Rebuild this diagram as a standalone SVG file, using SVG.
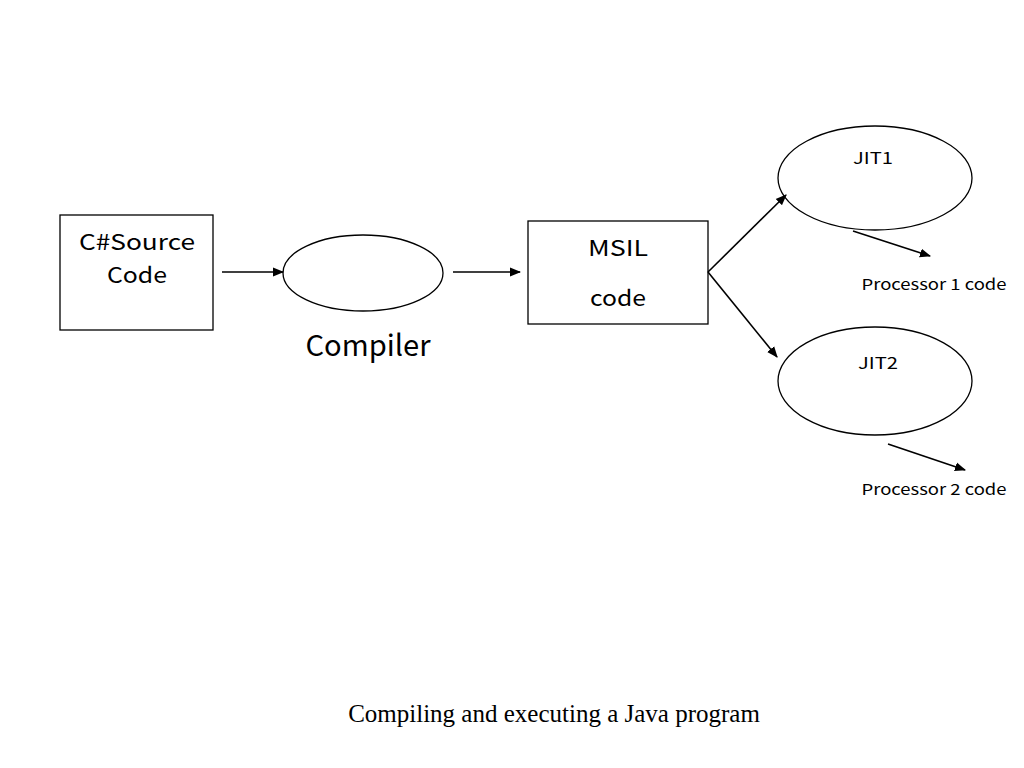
<svg xmlns="http://www.w3.org/2000/svg" width="1024" height="768" viewBox="0 0 1024 768">
<style>
.s{fill:#fff;stroke:#000;stroke-width:1.3}
.t{font-family:"Noto Sans CJK JP","Noto Sans",sans-serif;fill:#000;text-anchor:middle}
.c{stroke:#000;stroke-width:1.6;fill:none;marker-end:url(#a)}
</style>
<defs><marker id="a" viewBox="0 0 10 10" refX="9" refY="5" markerWidth="7" markerHeight="7" orient="auto"><path d="M0,1 L10,5 L0,9 z" fill="#000"/></marker></defs>
<rect width="1024" height="768" fill="#fff"/>
<g id="source"><rect class="s" x="60" y="215" width="153" height="115"/><text class="t" x="137" y="250" font-size="22" textLength="116" lengthAdjust="spacingAndGlyphs">C#Source</text><text class="t" x="137" y="283" font-size="22" textLength="60" lengthAdjust="spacingAndGlyphs">Code</text></g>
<g id="compiler"><ellipse class="s" cx="363" cy="273" rx="80" ry="38"/><text class="t" x="368" y="356" font-size="29" textLength="125" lengthAdjust="spacingAndGlyphs">Compiler</text></g>
<g id="msil"><rect class="s" x="528" y="221" width="180" height="103"/><text class="t" x="618" y="256" font-size="22" textLength="60" lengthAdjust="spacingAndGlyphs">MSIL</text><text class="t" x="618" y="306" font-size="22" textLength="56" lengthAdjust="spacingAndGlyphs">code</text></g>
<g id="jit1"><ellipse class="s" cx="875" cy="178" rx="97" ry="52"/><text class="t" x="873" y="164" font-size="16" textLength="40" lengthAdjust="spacingAndGlyphs">JIT1</text></g>
<g id="jit2"><ellipse class="s" cx="875" cy="381" rx="97" ry="54"/><text class="t" x="878" y="369" font-size="16" textLength="40" lengthAdjust="spacingAndGlyphs">JIT2</text></g>
<g id="p1"><text class="t" x="934" y="290" font-size="15" textLength="145" lengthAdjust="spacingAndGlyphs">Processor 1 code</text></g>
<g id="p2"><text class="t" x="934" y="495" font-size="15" textLength="145" lengthAdjust="spacingAndGlyphs">Processor 2 code</text></g>
<g id="connectors">
<line class="c" x1="222" y1="272" x2="283" y2="272"/>
<line class="c" x1="453" y1="272" x2="520" y2="272"/>
<line class="c" x1="708" y1="272" x2="786" y2="195"/>
<line class="c" x1="708" y1="272" x2="777" y2="357"/>
<line class="c" x1="853" y1="231" x2="930" y2="256"/>
<line class="c" x1="888" y1="444" x2="965" y2="470"/>
</g>
<text x="554" y="722" font-family="Liberation Serif,serif" font-size="25" text-anchor="middle">Compiling and executing a Java program</text>
</svg>
